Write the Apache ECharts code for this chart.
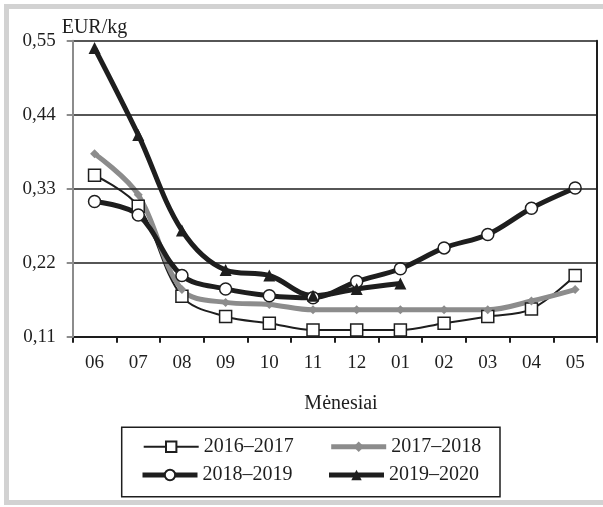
<!DOCTYPE html>
<html>
<head>
<meta charset="utf-8">
<script src="https://cdn.jsdelivr.net/npm/echarts@6/dist/echarts.min.js"></script>
<style>
html,body{margin:0;padding:0;background:#fff;}
#c{width:603px;height:507px;}
</style>
</head>
<body>
<div id="c"></div>
<script>
const months = ['06','07','08','09','10','11','12','01','02','03','04','05'];
const names = ['2016–2017','2017–2018','2018–2019','2019–2020'];
const s1617 = [0.350, 0.304, 0.170, 0.140, 0.130, 0.120, 0.120, 0.120, 0.130, 0.140, 0.151, 0.201];
const s1718 = [0.382, 0.321, 0.180, 0.161, 0.158, 0.150, 0.150, 0.150, 0.150, 0.150, 0.163, 0.180];
const s1819 = [0.311, 0.291, 0.201, 0.181, 0.171, 0.168, 0.192, 0.211, 0.242, 0.262, 0.301, 0.331];
const s1920 = [0.539, 0.410, 0.268, 0.209, 0.201, 0.171, 0.181, 0.189, null, null, null, null];
const yMin = 0.11, yMax = 0.55, yStep = 0.11;
const yUnit = 'EUR/kg';
const xTitle = 'Mėnesiai';

const FONT = 'Liberation Serif';
const INK = '#1e1e1e';
const GREY = '#8c8c8c';
const FRAME = '#d2d2d2';

const widths = [2, 5, 5, 5];
const lineColors = [INK, GREY, INK, INK];

const chart = echarts.init(document.getElementById('c'), null, {renderer: 'canvas'});
const fmt = v => v.toFixed(2).replace('.', ',');

const legendText = {fontFamily: FONT, fontSize: 20, color: INK, lineHeight: 20};
const legendItem = i => ({name: names[i], lineStyle: {width: widths[i], color: lineColors[i]}});

chart.setOption({
  animation: false,
  backgroundColor: '#fff',
  grid: {left: 72.7, right: 6, top: 40.7, bottom: 170.3, containLabel: false},
  xAxis: {
    type: 'category',
    data: months,
    boundaryGap: true,
    axisLine: {lineStyle: {color: INK, width: 2}},
    axisTick: {show: true, interval: 0, length: 6, lineStyle: {color: INK, width: 2}},
    axisLabel: {interval: 0, margin: 17, fontFamily: FONT, fontSize: 19, color: INK},
    splitLine: {show: false}
  },
  yAxis: [{
    type: 'value',
    min: yMin, max: yMax, interval: yStep,
    z: 5,
    axisLine: {show: true, lineStyle: {color: GREY, width: 2}},
    axisTick: {show: true, length: 6, lineStyle: {color: GREY, width: 2}},
    axisLabel: {margin: 17, fontFamily: FONT, fontSize: 19, color: INK, formatter: fmt},
    splitLine: {show: true, lineStyle: {color: INK, width: 1.5}}
  }, {
    type: 'value', position: 'right',
    min: yMin, max: yMax, interval: yStep,
    axisLine: {show: true, lineStyle: {color: INK, width: 2}},
    axisTick: {show: false}, axisLabel: {show: false}, splitLine: {show: false}
  }],
  legend: [{
    data: [legendItem(0), legendItem(1)],
    left: 142.7, top: 436.7, padding: 0,
    itemWidth: 55, itemHeight: 13, itemGap: 35,
    textStyle: legendText
  }, {
    data: [legendItem(2), legendItem(3)],
    left: 140, top: 465, padding: 0,
    itemWidth: 55, itemHeight: 13, itemGap: 34,
    textStyle: legendText
  }],
  graphic: [
    {type: 'rect', silent: true, z: -10, shape: {x: 4, y: 4, width: 5, height: 501}, style: {fill: FRAME}},
    {type: 'rect', silent: true, z: -10, shape: {x: 4, y: 4, width: 599, height: 5}, style: {fill: FRAME}},
    {type: 'rect', silent: true, z: -10, shape: {x: 4, y: 500, width: 599, height: 5}, style: {fill: FRAME}},
    {type: 'rect', silent: true, shape: {x: 121.7, y: 427.3, width: 378.3, height: 69.4},
     style: {fill: null, stroke: INK, lineWidth: 1.5}},
    {type: 'text', silent: true, left: 61.7, top: 18,
     style: {text: yUnit, font: '20px "Liberation Serif"', fill: INK}},
    {type: 'text', silent: true, x: 341, y: 404,
     style: {text: xTitle, font: '20px "Liberation Serif"', fill: INK, textAlign: 'center', textVerticalAlign: 'middle'}}
  ],
  series: [
    {name: names[0], type: 'line', data: s1617, smooth: 0.35,
     symbol: 'rect', symbolSize: 12,
     lineStyle: {color: lineColors[0], width: widths[0]},
     itemStyle: {color: '#fff', borderColor: INK, borderWidth: 1.5}},
    {name: names[1], type: 'line', data: s1718, smooth: 0.35,
     symbol: 'diamond', symbolSize: 9,
     lineStyle: {color: lineColors[1], width: widths[1]},
     itemStyle: {color: GREY, borderColor: GREY, borderWidth: 0}},
    {name: names[2], type: 'line', data: s1819, smooth: 0.35,
     symbol: 'circle', symbolSize: 12,
     lineStyle: {color: lineColors[2], width: widths[2]},
     itemStyle: {color: '#fff', borderColor: INK, borderWidth: 1.5}},
    {name: names[3], type: 'line', data: s1920, smooth: 0.35,
     symbol: 'triangle', symbolSize: 12,
     lineStyle: {color: lineColors[3], width: widths[3]},
     itemStyle: {color: INK, borderColor: INK, borderWidth: 0}}
  ]
});
</script>
</body>
</html>
